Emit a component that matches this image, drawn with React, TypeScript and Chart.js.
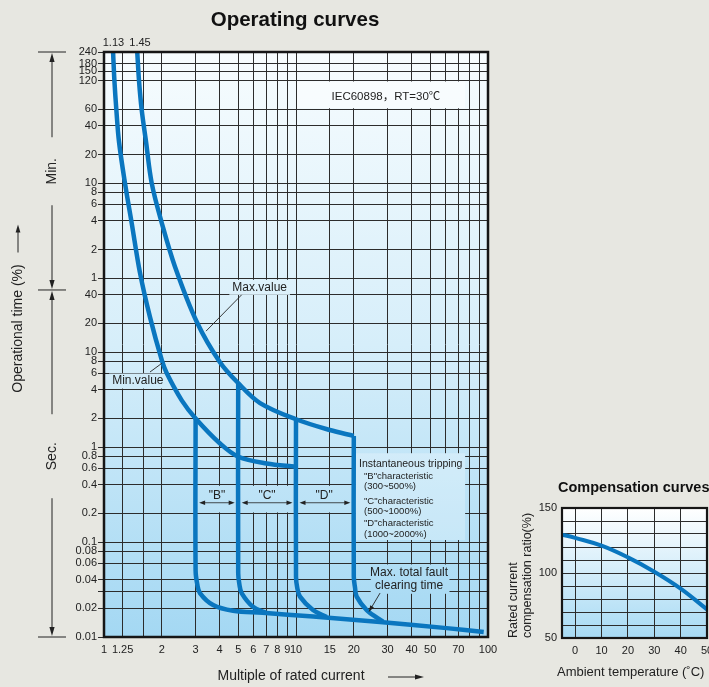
import React, { useEffect, useRef } from "react";
import { Chart, registerables } from "chart.js";

Chart.register(...registerables);

const FONT = '"Liberation Sans", Arial, Helvetica, "Noto Sans CJK SC", sans-serif';
const BLUE = "#0a76bf";
const GRID = "#2c2c2c";
const INK = "#222222";

// ---------- Operating curves: axis ticks ----------
const xTickValues = [1, 1.25, 1.6, 2, 3, 4, 5, 6, 7, 8, 9, 10, 15, 20, 30, 40, 50, 60, 70, 80, 90, 100];
const xTickLabels = ["1", "1.25", "", "2", "3", "4", "5", "6", "7", "8", "9", "10", "15", "20", "30", "40", "50", "", "70", "", "", "100"];
// time in seconds (upper part labelled in minutes)
const yTickValues = [14400, 10800, 9000, 7200, 3600, 2400, 1200, 600, 480, 360, 240, 120, 60, 40, 20, 10, 8, 6, 4, 2, 1, 0.8, 0.6, 0.4, 0.2, 0.1, 0.08, 0.06, 0.04, 0.03, 0.02, 0.01];
const yTickLabels = ["240", "180", "150", "120", "60", "40", "20", "10", "8", "6", "4", "2", "1", "40", "20", "10", "8", "6", "4", "2", "1", "0.8", "0.6", "0.4", "0.2", "0.1", "0.08", "0.06", "0.04", "", "0.02", "0.01"];

// ---------- Operating curves: series (x = multiple of rated current, y = seconds) ----------
const minThermalX = [1.115, 1.133, 1.16, 1.197, 1.286, 1.394, 1.54, 1.736, 2.0, 2.12, 2.54, 3.0, 4.02, 5.01, 7.03, 10];
const minThermalT = [14400, 7180, 3520, 1640, 600, 228, 68, 23.3, 8.2, 6.0, 3.1, 2.0, 1.09, 0.79, 0.67, 0.62];
const maxThermalX = [1.49, 1.522, 1.572, 1.655, 1.772, 2.0, 2.343, 3.04, 4.0, 5.0, 6.5, 10, 15, 20];
const maxThermalT = [14400, 7180, 3520, 1640, 600, 228, 79, 20.8, 7.9, 4.7, 2.9, 1.96, 1.51, 1.31];
const bTripX = [3, 3, 3.06, 3.16, 3.7, 4.7, 6.7, 12.3, 27.4, 60.9, 95];
const bTripT = [2.0, 0.05, 0.036, 0.029, 0.0217, 0.0189, 0.018, 0.0164, 0.0144, 0.0124, 0.0113];
const cTripX = [5, 5, 5.07, 5.21, 5.97, 7.0];
const cTripT = [4.7, 0.047, 0.036, 0.029, 0.0208, 0.0179];
const dTripX = [10, 10, 10.15, 10.49, 12.26, 14.45];
const dTripT = [1.96, 0.043, 0.033, 0.0266, 0.0192, 0.0162];
const eTripX = [20, 20, 20.3, 20.7, 23.35, 28.4];
const eTripT = [1.31, 0.043, 0.033, 0.0266, 0.0192, 0.0145];

// ---------- Compensation curves ----------
const compTemp = [-5, 0, 10, 20, 30, 40, 50];
const compRatio = [129.5, 127, 121, 112, 101, 88, 72];
const compXTicks = [-5, 0, 10, 20, 30, 40, 50];
const compXLabels = ["", "0", "10", "20", "30", "40", "50"];
const compYTicks = [50, 60, 70, 80, 90, 100, 110, 120, 130, 140, 150];
const compYLabels = ["50", "", "", "", "", "100", "", "", "", "", "150"];

const MAIN_BG: [number, string][] = [[0, "#f7fcfe"], [0.5, "#d6eefa"], [1, "#a4d8f3"]];
const COMP_BG: [number, string][] = [[0, "#ffffff"], [1, "#a7daf4"]];

function labelFor(values: number[], labels: string[], v: number) {
  const i = values.findIndex((q) => Math.abs(q - v) <= 1e-9 * Math.max(1, Math.abs(q)));
  return i >= 0 ? labels[i] : "";
}

const toPts = (xs: number[], ys: number[]) => xs.map((x, i) => ({ x, y: ys[i] }));
const curve = (xs: number[], ys: number[], w = 4.5) => ({
  data: toPts(xs, ys),
  showLine: true,
  borderColor: BLUE,
  backgroundColor: BLUE,
  borderWidth: w,
  pointRadius: 0,
  pointHoverRadius: 0,
  tension: 0.35,
  fill: false,
  borderJoinStyle: "round",
});

function grad(ctx: CanvasRenderingContext2D, a: any, stops: [number, string][]) {
  const g = ctx.createLinearGradient(0, a.top, 0, a.bottom);
  stops.forEach(([o, c]) => g.addColorStop(o, c));
  return g;
}

function txt(ctx: CanvasRenderingContext2D, s: string, x: number, y: number, size: number, o: any = {}) {
  ctx.save();
  ctx.font = `${o.bold ? "bold " : ""}${size}px ${o.family || FONT}`;
  ctx.fillStyle = o.color || INK;
  ctx.textAlign = o.align || "center";
  ctx.textBaseline = "middle";
  ctx.translate(x, y);
  if (o.rot) ctx.rotate(o.rot);
  ctx.fillText(s, 0, 0);
  ctx.restore();
}

function head(ctx: CanvasRenderingContext2D, x: number, y: number, dx: number, dy: number, len = 7, half = 2.6) {
  const bx = x - dx * len, by = y - dy * len;
  const nx = -dy, ny = dx;
  ctx.beginPath();
  ctx.moveTo(x, y);
  ctx.lineTo(bx + nx * half, by + ny * half);
  ctx.lineTo(bx - nx * half, by - ny * half);
  ctx.closePath();
  ctx.fill();
}

function line(ctx: CanvasRenderingContext2D, x0: number, y0: number, x1: number, y1: number, w = 0.9, color = INK) {
  ctx.save();
  ctx.strokeStyle = color;
  ctx.lineWidth = w;
  ctx.beginPath();
  ctx.moveTo(x0, y0);
  ctx.lineTo(x1, y1);
  ctx.stroke();
  ctx.restore();
}

const P = (c: any, x: number, t: number) => ({ x: c.scales.x.getPixelForValue(x), y: c.scales.y.getPixelForValue(t) });

// annotation anchors in data coordinates (multiple, seconds)
const maxLabel = { x: 6.47, t: 48, lead: [5.21, 40, 3.4, 16.6] };
const minLabel = { x: 1.5, t: 4.95, lead: [1.736, 6.16, 2.0, 7.6] };
const iecBox = { x0: 10, x1: 76, t0: 7200, t1: 3600, tx: 29.4, tt: 4870 };
const instBox = { x0: 20.4, x1: 76, t0: 0.86, t1: 0.105 };
const bandT = [0.4, 0.2];
const bands = [{ s: '"B"', x0: 3, x1: 5, tx: 3.88 }, { s: '"C"', x0: 5, x1: 10, tx: 7.06 }, { s: '"D"', x0: 10, x1: 20, tx: 14.0 }];
const faultBox = { x0: 24.5, x1: 63, t0: 0.058, t1: 0.0285, tx: 38.8, t1a: 0.0475, t2a: 0.0344, lead: [27.4, 0.029, 24.0, 0.0185] };

const mainPlugin = {
  id: "mainDeco",
  beforeDraw(chart: any) {
    const { ctx, chartArea: a } = chart;
    ctx.save();
    ctx.fillStyle = grad(ctx, a, MAIN_BG);
    ctx.fillRect(a.left, a.top, a.width, a.height);
    ctx.restore();
  },
  beforeDatasetsDraw(chart: any) {
    const { ctx, chartArea: a } = chart;
    const g = grad(ctx, a, MAIN_BG);
    const mask = (x0: number, y0: number, x1: number, y1: number, tint = 0) => {
      ctx.save();
      ctx.fillStyle = g;
      ctx.fillRect(x0, y0, x1 - x0, y1 - y0);
      if (tint > 0) {
        ctx.fillStyle = `rgba(255,255,255,${tint})`;
        ctx.fillRect(x0, y0, x1 - x0, y1 - y0);
      }
      ctx.restore();
    };
    let p0 = P(chart, iecBox.x0, iecBox.t0), p1 = P(chart, iecBox.x1, iecBox.t1);
    mask(p0.x + 1, p0.y + 1, p1.x, p1.y - 1, 0.45);
    p0 = P(chart, instBox.x0, instBox.t0); p1 = P(chart, instBox.x1, instBox.t1);
    mask(p0.x, p0.y, p1.x, p1.y, 0.25);
    bands.forEach((b) => {
      const q0 = P(chart, b.x0, bandT[0]), q1 = P(chart, b.x1, bandT[1]);
      mask(q0.x + 2, q0.y + 1, q1.x - 2, q1.y - 1);
    });
    p0 = P(chart, faultBox.x0, faultBox.t0); p1 = P(chart, faultBox.x1, faultBox.t1);
    mask(p0.x, p0.y, p1.x, p1.y);
    ctx.save();
    ctx.font = `12px ${FONT}`;
    [[maxLabel, "Max.value"], [minLabel, "Min.value"]].forEach(([l, s]: any) => {
      const c = P(chart, l.x, l.t);
      const w = ctx.measureText(s).width + 6;
      mask(c.x - w / 2, c.y - 7.5, c.x + w / 2, c.y + 7.5);
    });
    ctx.restore();
  },
  afterDatasetsDraw(chart: any) {
    const { ctx, chartArea: a } = chart;
    ctx.save();
    ctx.strokeStyle = "#161616";
    ctx.lineWidth = 2.5;
    ctx.strokeRect(a.left, a.top, a.width, a.height);
    ctx.restore();

    let c = P(chart, iecBox.tx, iecBox.tt);
    txt(ctx, "IEC60898，RT=30℃", c.x, c.y, 11.5, { family: '"Liberation Sans", "Noto Sans CJK SC", sans-serif' });

    [[maxLabel, "Max.value"], [minLabel, "Min.value"]].forEach(([l, s]: any) => {
      const q = P(chart, l.x, l.t);
      txt(ctx, s, q.x, q.y, 12);
      const s0 = P(chart, l.lead[0], l.lead[1]), s1 = P(chart, l.lead[2], l.lead[3]);
      line(ctx, s0.x, s0.y, s1.x, s1.y, 0.9);
    });

    ctx.save();
    ctx.fillStyle = INK;
    bands.forEach((b) => {
      const t = P(chart, b.tx, 0.305);
      txt(ctx, b.s, t.x, t.y, 12);
      const q0 = P(chart, b.x0, 0.259), q1 = P(chart, b.x1, 0.259);
      const xa = q0.x + 3.5, xb = q1.x - 3.5;
      line(ctx, xa + 4, q0.y, xb - 4, q0.y, 0.8);
      head(ctx, xa, q0.y, -1, 0, 6, 2.2);
      head(ctx, xb, q0.y, 1, 0, 6, 2.2);
    });
    ctx.restore();

    c = P(chart, 21.3, 0.662);
    txt(ctx, "Instantaneous tripping", c.x, c.y, 10.5, { align: "left" });
    const subs = ['"B"characteristic', "(300~500%)", '"C"characteristic', "(500~1000%)", '"D"characteristic', "(1000~2000%)"];
    const subT = [0.495, 0.382, 0.27, 0.212, 0.158, 0.121];
    subs.forEach((s, i) => {
      const q = P(chart, 22.6, subT[i]);
      txt(ctx, s, q.x, q.y, 9.5, { align: "left" });
    });

    c = P(chart, faultBox.tx, faultBox.t1a);
    txt(ctx, "Max. total fault", c.x, c.y, 12);
    c = P(chart, faultBox.tx, faultBox.t2a);
    txt(ctx, "clearing time", c.x, c.y, 12);
    const f0 = P(chart, faultBox.lead[0], faultBox.lead[1]), f1 = P(chart, faultBox.lead[2], faultBox.lead[3]);
    line(ctx, f0.x, f0.y, f1.x, f1.y, 0.9);
    const dx = f1.x - f0.x, dy = f1.y - f0.y, L = Math.hypot(dx, dy);
    ctx.save();
    ctx.fillStyle = INK;
    head(ctx, f1.x, f1.y, dx / L, dy / L, 6, 2.2);
    ctx.restore();
  },
  afterDraw(chart: any) {
    const { ctx, chartArea: a } = chart;
    const ys = chart.scales.y;
    const xs = chart.scales.x;
    txt(ctx, "Operating curves", (a.left + a.right) / 2 - 1, 20, 20.5, { bold: true, color: "#111" });
    txt(ctx, "1.13", xs.getPixelForValue(1.12), a.top - 9, 11);
    txt(ctx, "1.45", xs.getPixelForValue(1.54), a.top - 9, 11);

    ctx.save();
    ctx.fillStyle = INK;
    const X = 52;
    const yTop = ys.getPixelForValue(14400);
    const yMid = ys.getPixelForValue(45);
    const yBot = ys.getPixelForValue(0.01);
    const cMin = ys.getPixelForValue(800);
    const cSec = ys.getPixelForValue(0.8);
    [yTop, yMid, yBot].forEach((y) => line(ctx, X - 14, y, X + 14, y, 1));
    line(ctx, X, yTop + 6, X, cMin - 34, 1);
    line(ctx, X, cMin + 34, X, yMid - 6, 1);
    line(ctx, X, yMid + 6, X, cSec - 42, 1);
    line(ctx, X, cSec + 42, X, yBot - 6, 1);
    head(ctx, X, yTop + 1, 0, -1, 9, 2.6);
    head(ctx, X, yMid - 1, 0, 1, 9, 2.6);
    head(ctx, X, yMid + 1, 0, -1, 9, 2.6);
    head(ctx, X, yBot - 1, 0, 1, 9, 2.6);
    ctx.restore();
    txt(ctx, "Min.", X, cMin, 14, { rot: -Math.PI / 2 });
    txt(ctx, "Sec.", X, cSec, 14, { rot: -Math.PI / 2 });

    const yc = (a.top + a.bottom) / 2 - 16;
    txt(ctx, "Operational time (%)", 18, yc, 14, { rot: -Math.PI / 2 });
    ctx.save();
    ctx.fillStyle = INK;
    line(ctx, 18, yc - 76, 18, yc - 100, 1);
    head(ctx, 18, yc - 104, 0, -1, 8, 2.4);
    ctx.restore();

    txt(ctx, "Multiple of rated current", 291, a.bottom + 39, 14);
    ctx.save();
    ctx.fillStyle = INK;
    line(ctx, 388, a.bottom + 40, 416, a.bottom + 40, 1);
    head(ctx, 424, a.bottom + 40, 1, 0, 9, 2.4);
    ctx.restore();
  },
};

function mainConfig(): any {
  return {
    type: "scatter",
    data: {
      datasets: [
        curve(minThermalX, minThermalT),
        curve(maxThermalX, maxThermalT),
        curve(bTripX, bTripT),
        curve(cTripX, cTripT),
        curve(dTripX, dTripT),
        curve(eTripX, eTripT),
      ],
    },
    options: {
      responsive: false,
      animation: false,
      events: [],
      layout: { padding: { left: 0, top: 52, right: 221, bottom: 0 } },
      plugins: { legend: { display: false }, tooltip: { enabled: false }, title: { display: false } },
      scales: {
        x: {
          type: "logarithmic",
          min: 1,
          max: 100,
          afterBuildTicks: (s: any) => { s.ticks = xTickValues.map((v) => ({ value: v })); },
          afterFit: (s: any) => { s.height = 50; s.paddingLeft = 0; s.paddingRight = 0; },
          ticks: {
            autoSkip: false,
            maxRotation: 0,
            minRotation: 0,
            padding: 6,
            color: INK,
            font: { size: 11, family: FONT },
            callback: (v: number) => labelFor(xTickValues, xTickLabels, v),
          },
          grid: { color: GRID, lineWidth: 1, drawTicks: false },
          border: { display: false },
        },
        y: {
          type: "logarithmic",
          min: 0.01,
          max: 14400,
          afterBuildTicks: (s: any) => { s.ticks = yTickValues.map((v) => ({ value: v })); },
          afterFit: (s: any) => { s.width = 104; s.paddingTop = 0; s.paddingBottom = 0; },
          ticks: {
            autoSkip: false,
            padding: 1,
            color: INK,
            font: { size: 11, family: FONT },
            callback: (v: number) => labelFor(yTickValues, yTickLabels, v),
          },
          grid: { color: GRID, lineWidth: 1, drawTicks: true, tickLength: 6 },
          border: { display: false },
        },
      },
    },
    plugins: [mainPlugin],
  };
}

const compPlugin = {
  id: "compDeco",
  beforeDraw(chart: any) {
    const { ctx, chartArea: a } = chart;
    ctx.save();
    ctx.fillStyle = grad(ctx, a, COMP_BG);
    ctx.fillRect(a.left, a.top, a.width, a.height);
    ctx.restore();
  },
  afterDatasetsDraw(chart: any) {
    const { ctx, chartArea: a } = chart;
    ctx.save();
    ctx.strokeStyle = "#161616";
    ctx.lineWidth = 2.2;
    ctx.strokeRect(a.left, a.top, a.width, a.height);
    ctx.restore();
  },
  afterDraw(chart: any) {
    const { ctx, chartArea: a } = chart;
    txt(ctx, "Compensation curves", a.left - 4, a.top - 20, 14.5, { bold: true, align: "left", color: "#111" });
    txt(ctx, "Ambient temperature (˚C)", a.left - 5, a.bottom + 34, 13, { align: "left" });
    txt(ctx, "Rated current", 14, a.bottom, 12.5, { rot: -Math.PI / 2, align: "left" });
    txt(ctx, "compensation ratio(%)", 28, a.bottom, 12.5, { rot: -Math.PI / 2, align: "left" });
  },
};

function compConfig(): any {
  return {
    type: "scatter",
    data: { datasets: [{ ...curve(compTemp, compRatio, 4), tension: 0.4 }] },
    options: {
      responsive: false,
      animation: false,
      events: [],
      layout: { padding: { left: 0, top: 38, right: 2, bottom: 0 } },
      plugins: { legend: { display: false }, tooltip: { enabled: false } },
      scales: {
        x: {
          type: "linear",
          min: -5,
          max: 50,
          afterBuildTicks: (s: any) => { s.ticks = compXTicks.map((v) => ({ value: v })); },
          afterFit: (s: any) => { s.height = 49; s.paddingLeft = 0; s.paddingRight = 0; },
          ticks: {
            autoSkip: false,
            maxRotation: 0,
            padding: 6,
            color: INK,
            font: { size: 11, family: FONT },
            callback: (v: number) => labelFor(compXTicks, compXLabels, v),
          },
          grid: { color: GRID, lineWidth: 1, drawTicks: false },
          border: { display: false },
        },
        y: {
          type: "linear",
          min: 50,
          max: 150,
          afterBuildTicks: (s: any) => { s.ticks = compYTicks.map((v) => ({ value: v })); },
          afterFit: (s: any) => { s.width = 62; s.paddingTop = 0; s.paddingBottom = 0; },
          ticks: {
            autoSkip: false,
            padding: 5,
            color: INK,
            font: { size: 11, family: FONT },
            callback: (v: number) => labelFor(compYTicks, compYLabels, v),
          },
          grid: { color: GRID, lineWidth: 1, drawTicks: false },
          border: { display: false },
        },
      },
    },
    plugins: [compPlugin],
  };
}

export default function App() {
  const mainRef = useRef<HTMLCanvasElement>(null);
  const compRef = useRef<HTMLCanvasElement>(null);
  useEffect(() => {
    Chart.defaults.font.family = FONT;
    const c1 = new Chart(mainRef.current as HTMLCanvasElement, mainConfig());
    const c2 = new Chart(compRef.current as HTMLCanvasElement, compConfig());
    return () => {
      c1.destroy();
      c2.destroy();
    };
  }, []);
  return (
    <div style={{ position: "absolute", left: 0, top: 0, width: 709, height: 687, background: "#e7e7e1", overflow: "hidden" }}>
      <canvas ref={mainRef} width={709} height={687} style={{ position: "absolute", left: 0, top: 0, width: 709, height: 687 }} />
      <canvas ref={compRef} width={209} height={217} style={{ position: "absolute", left: 500, top: 470, width: 209, height: 217 }} />
    </div>
  );
}
